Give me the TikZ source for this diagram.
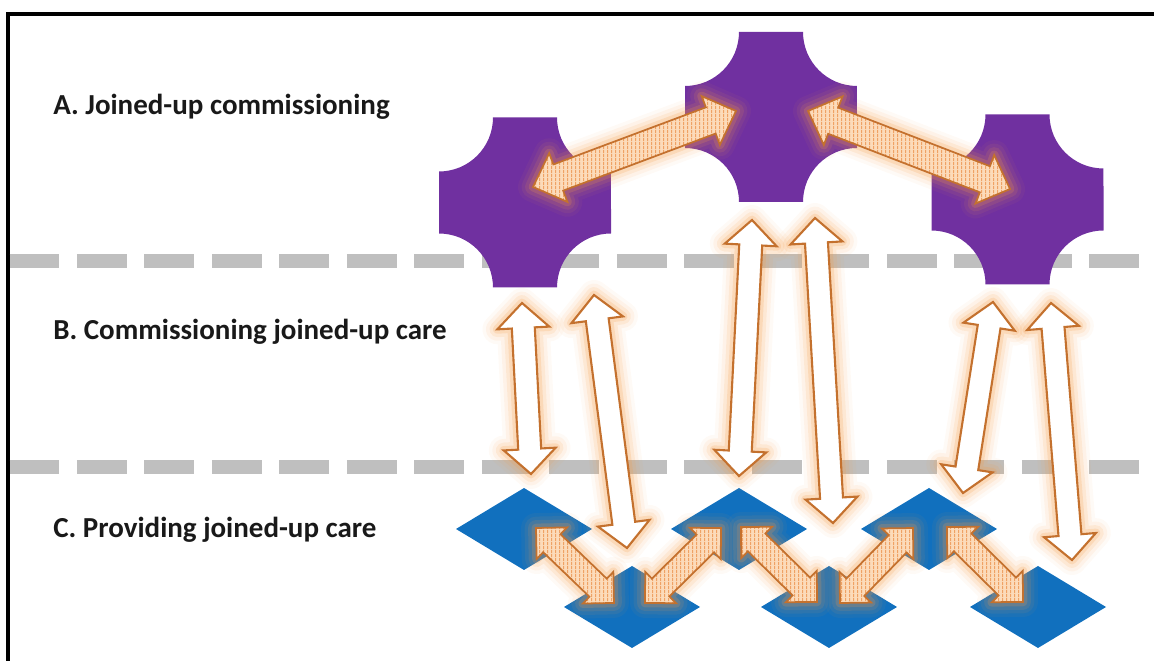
\documentclass[tikz,border=0pt]{standalone}
\usepackage{fontspec}
\setmainfont{Carlito}
\usetikzlibrary{patterns,calc}

\definecolor{crosspurple}{HTML}{7030A0}
\definecolor{careblue}{HTML}{1170BE}
\definecolor{arrowedge}{HTML}{C4712E}
\definecolor{glowor}{HTML}{F59B47}
\definecolor{hatchfill}{HTML}{FCDBBA}
\definecolor{hatchline}{HTML}{EFA264}
\definecolor{dashgray}{HTML}{BFBFBF}

% fine vertical stripes for the link arrows
\pgfdeclarepatternformonly{fine vlines}{\pgfpointorigin}{\pgfqpoint{2pt}{2pt}}{\pgfqpoint{2pt}{2pt}}{%
  \pgfsetlinewidth{0.7pt}%
  \pgfpathmoveto{\pgfqpoint{1pt}{0pt}}\pgfpathlineto{\pgfqpoint{1pt}{2pt}}\pgfusepath{stroke}}

% block double arrow: style, from, to, shaft half width, head half width, head length
\newcommand\blkarrow[6]{%
  \pgfpointdiff{\pgfpointanchor{#2}{center}}{\pgfpointanchor{#3}{center}}%
  \pgfgetlastxy\badx\bady
  \pgfmathsetmacro\baang{atan2(\bady,\badx)}%
  \pgfmathsetmacro\balen{veclen(\badx,\bady)/0.5690551}%
  \begin{scope}[shift={(#2)}, rotate=\baang]
    \path[#1] (0,0) -- (#6,#5) -- (#6,#4) -- ({\balen-#6},#4) -- ({\balen-#6},#5)
      -- (\balen,0) -- ({\balen-#6},-#5) -- ({\balen-#6},-#4) -- (#6,-#4) -- (#6,-#5) -- cycle;
  \end{scope}}

\newcommand\arrowglow[5]{%
  \blkarrow{glowring={17pt}{.05}}{#1}{#2}{#3}{#4}{#5}%
  \blkarrow{glowring={13pt}{.08}}{#1}{#2}{#3}{#4}{#5}%
  \blkarrow{glowring={9pt}{.12}}{#1}{#2}{#3}{#4}{#5}%
  \blkarrow{glowring={5pt}{.2}}{#1}{#2}{#3}{#4}{#5}}

\begin{document}
\begin{tikzpicture}[x=0.02cm, y=-0.02cm,
    lvl/.style={font=\fontsize{16.5}{19}\selectfont\bfseries, text=black!90, anchor=base west, inner sep=0pt},
    sepline/.style={draw=dashgray, line width=8.5pt, dash pattern=on 28.45pt off 9.96pt},
    crossfill/.style={fill=crosspurple},
    carefill/.style={fill=careblue},
    glowring/.style 2 args={draw=glowor, line join=round, line width=#1, draw opacity=#2},
    whitebody/.style={fill=white, draw=arrowedge, line width=1.2pt},
    hatchbody/.style={preaction={fill=hatchfill}, pattern=fine vlines, pattern color=hatchline, draw=arrowedge, line width=1pt}]
  \useasboundingbox (0,0) rectangle (1154,661);

  % frame
  \draw[line width=2.2pt] (8,670) -- (8,14) -- (1165,14);

  % level labels
  \node[lvl] (labA) at (53,115) {A. Joined-up commissioning};
  \node[lvl] (labB) at (53,340) {B. Commissioning joined-up care};
  \node[lvl] (labC) at (53,538) {C. Providing joined-up care};

  % level separators
  \draw[sepline] (9.5,261) -- (1154,261);
  \draw[sepline] (9.5,467) -- (1154,467);

  % commissioners
  \coordinate (cl) at (525,202.5);
  \coordinate (cm) at (771,117);
  \coordinate (cr) at (1017.5,199.5);
  \foreach \c in {cl,cm,cr}
    \fill[crossfill] ($(\c)+(-32,-85)$) -- ($(\c)+(32,-85)$) arc[start angle=180, end angle=270, radius=1.08cm]
      -- ($(\c)+(86,31)$) arc[start angle=90, end angle=180, radius=1.08cm]
      -- ($(\c)+(-32,85)$) arc[start angle=0, end angle=90, radius=1.08cm]
      -- ($(\c)+(-86,-31)$) arc[start angle=270, end angle=360, radius=1.08cm] -- cycle;

  % providers
  \foreach \n/\x/\y in {d1/524/529, d2/739/529, d3/929/529, d4/632/607, d5/829/607, d6/1038/607}{
    \coordinate (\n) at (\x,\y);
    \fill[carefill] (\n) +(-68,0) -- +(0,-41) -- +(68,0) -- +(0,41) -- cycle;}

  % arrow ends
  \coordinate (t1a) at (533,187);  \coordinate (t1b) at (736,111);
  \coordinate (t2a) at (808,111);  \coordinate (t2b) at (1010,189);
  \coordinate (w1a) at (522,303);  \coordinate (w1b) at (531,474);
  \coordinate (w2a) at (594,295);  \coordinate (w2b) at (627,548);
  \coordinate (w3a) at (752,220);  \coordinate (w3b) at (739,476);
  \coordinate (w4a) at (815,218);  \coordinate (w4b) at (833,523);
  \coordinate (w5a) at (993,302);  \coordinate (w5b) at (963,493);
  \coordinate (w6a) at (1051,303); \coordinate (w6b) at (1072,560);
  \coordinate (h1a) at (536,528);  \coordinate (h1b) at (614,603);
  \coordinate (h2a) at (645,603);  \coordinate (h2b) at (721,528);
  \coordinate (h3a) at (741,527);  \coordinate (h3b) at (817,602);
  \coordinate (h4a) at (840,603);  \coordinate (h4b) at (913,528);
  \coordinate (h5a) at (947,527);  \coordinate (h5b) at (1023,602);

  % glow behind all arrows
  \foreach \src/\dst in {w1a/w1b, w2a/w2b, w3a/w3b, w4a/w4b, w5a/w5b, w6a/w6b}
    {\arrowglow{\src}{\dst}{11.5}{26}{25}}
  \foreach \src/\dst in {t1a/t1b, t2a/t2b}
    {\arrowglow{\src}{\dst}{14}{26}{27}}
  \foreach \src/\dst in {h1a/h1b, h2a/h2b, h3a/h3b, h4a/h4b, h5a/h5b}
    {\arrowglow{\src}{\dst}{12.5}{22}{22}}

  % arrows
  \foreach \src/\dst in {w1a/w1b, w2a/w2b, w3a/w3b, w4a/w4b, w5a/w5b, w6a/w6b}
    {\blkarrow{whitebody}{\src}{\dst}{11.5}{26}{25}}
  \foreach \src/\dst in {t1a/t1b, t2a/t2b}
    {\blkarrow{hatchbody}{\src}{\dst}{14}{26}{27}}
  \foreach \src/\dst in {h1a/h1b, h2a/h2b, h3a/h3b, h4a/h4b, h5a/h5b}
    {\blkarrow{hatchbody}{\src}{\dst}{12.5}{22}{22}}
\end{tikzpicture}
\end{document}
